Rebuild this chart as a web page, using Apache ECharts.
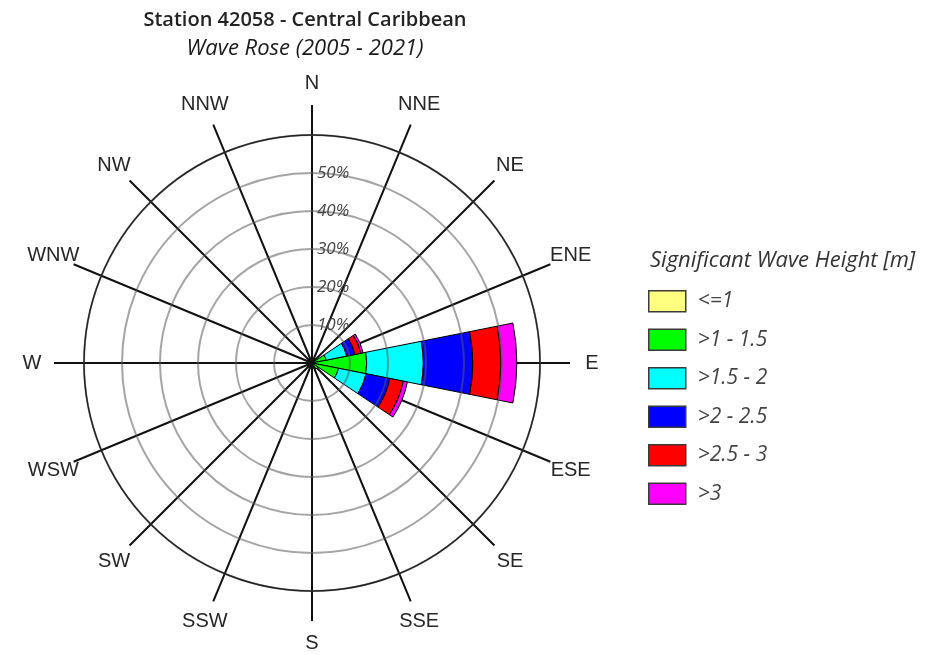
<!DOCTYPE html>
<html>
<head>
<meta charset="utf-8">
<title>Station 42058 - Wave Rose</title>
<script src="https://cdn.jsdelivr.net/npm/echarts@6/dist/echarts.min.js"></script>
<style>
  html, body { margin: 0; padding: 0; background: #fff; }
  #chart { width: 930px; height: 655px; }
</style>
</head>
<body>
<div id="chart"></div>
<script>
// Compass sectors, clockwise from north
const directions = ['N', 'NNE', 'NE', 'ENE', 'E', 'ESE', 'SE', 'SSE', 'S', 'SSW', 'SW', 'WSW', 'W', 'WNW', 'NW', 'NNW'];

// Significant wave height classes
const heightClasses = ['<=1', '>1 - 1.5', '>1.5 - 2', '>2 - 2.5', '>2.5 - 3', '>3'];

// Frequency of occurrence (%) per direction for each height class
const hsLe1    = [0, 0, 0.3, 0.3, 0.6,  0.5, 0.4, 0, 0, 0, 0, 0, 0, 0, 0, 0];
const hs1to15  = [0, 0, 0.5, 3.5, 13.8, 6.6, 1.5, 0, 0, 0, 0, 0, 0, 0, 0, 0];
const hs15to2  = [0, 0, 0,   5.5, 14.9, 7.4, 0,   0, 0, 0, 0, 0, 0, 0, 0, 0];
const hs2to25  = [0, 0, 0,   2.2, 13.0, 6.4, 0,   0, 0, 0, 0, 0, 0, 0, 0, 0];
const hs25to3  = [0, 0, 0,   1.6, 7.4,  3.6, 0,   0, 0, 0, 0, 0, 0, 0, 0, 0];
const hsGt3    = [0, 0, 0,   0.6, 4.2,  1.1, 0,   0, 0, 0, 0, 0, 0, 0, 0, 0];

// Radial ring values (%)
const ringMax = 60;
const ringStep = 10;

const classValues = [hsLe1, hs1to15, hs15to2, hs2to25, hs25to3, hsGt3];
const classColors = ['#FFFF80', '#00FF00', '#00FFFF', '#0000FF', '#FF0000', '#FF00FF'];

const center = [312, 363];
const sectorStart = 90 + 360 / directions.length / 2;   // puts N centred at the top

const chart = echarts.init(document.getElementById('chart'), null, { renderer: 'canvas' });

// Stacked frequency bars, one sector per direction
const barSeries = heightClasses.map((name, i) => ({
  name: name,
  type: 'bar',
  coordinateSystem: 'polar',
  polarIndex: 2,
  stack: 'waves',
  barCategoryGap: '0%',
  data: classValues[i].map(v => (v > 0 ? v : null)),
  itemStyle: { color: classColors[i], borderColor: '#000', borderWidth: 1 },
  emphasis: { disabled: true },
  z: 2
}));

// Compass labels, centred just beyond the spoke ends
const compassLabels = {
  type: 'scatter',
  coordinateSystem: 'polar',
  polarIndex: 3,
  clip: false,
  silent: true,
  symbol: 'circle',
  symbolSize: 1,
  itemStyle: { color: 'rgba(0,0,0,0)', opacity: 1 },
  data: directions.map((d, i) => ({ name: d, value: [1, i] })),
  label: {
    show: true,
    position: 'inside',
    formatter: p => p.name,
    fontFamily: 'Liberation Sans',
    fontSize: 20,
    color: '#262626',
    opacity: 1,
    textBorderWidth: 0
  },
  z: 5
};

const option = {
  animation: false,
  backgroundColor: '#fff',
  title: [
    {
      text: 'Station 42058 - Central Caribbean',
      left: 305, top: 10, textAlign: 'center', padding: 0,
      textStyle: { fontFamily: 'Open Sans', fontSize: 20, fontWeight: 600, color: '#222' }
    },
    {
      text: 'Wave Rose (2005 - 2021)',
      left: 305, top: 38, textAlign: 'center', padding: 0,
      textStyle: { fontFamily: 'Open Sans', fontSize: 22, fontStyle: 'italic', fontWeight: 'normal', color: '#1a1a1a' }
    },
    {
      text: 'Significant Wave Height [m]',
      left: 650, top: 250, padding: 0,
      textStyle: { fontFamily: 'Open Sans', fontSize: 22, fontStyle: 'italic', fontWeight: 'normal', color: '#333' }
    }
  ],
  legend: {
    orient: 'vertical',
    left: 648,
    top: 290,
    padding: 0,
    itemWidth: 37,
    itemHeight: 21,
    itemGap: 16,
    icon: 'rect',
    data: heightClasses,
    selectedMode: false,
    itemStyle: { borderColor: '#3a3a3a', borderWidth: 1.5 },
    textStyle: { fontFamily: 'Open Sans', fontSize: 21, fontStyle: 'italic', color: '#444', padding: [0, 0, 0, 7] }
  },
  polar: [
    { center: center, radius: 228 },
    { center: center, radius: 258 },
    { center: center, radius: 228 },
    { center: center, radius: 280 }
  ],
  angleAxis: [
    {
      // outer circle
      polarIndex: 0, type: 'value', min: 0, max: 360, interval: 22.5,
      startAngle: 90, clockwise: true,
      axisLine: { show: true, lineStyle: { color: '#222', width: 1.5 } },
      axisTick: { show: false }, axisLabel: { show: false }, splitLine: { show: false },
      z: 4
    },
    {
      // direction spokes
      polarIndex: 1, type: 'value', min: 0, max: 360, interval: 22.5,
      startAngle: 90, clockwise: true,
      axisLine: { show: false }, axisTick: { show: false }, axisLabel: { show: false },
      splitLine: { show: true, lineStyle: { color: '#111', width: 2 } },
      z: 1
    },
    {
      // sectors for the stacked bars
      polarIndex: 2, type: 'category', data: directions,
      startAngle: sectorStart, clockwise: true,
      show: false
    },
    {
      // compass label ring
      polarIndex: 3, type: 'category', data: directions,
      startAngle: sectorStart, clockwise: true,
      show: false
    }
  ],
  radiusAxis: [
    {
      polarIndex: 0, type: 'value', min: 0, max: ringMax, interval: ringStep,
      axisLine: { show: false }, axisTick: { show: false },
      axisLabel: {
        show: true, align: 'left', margin: -5,
        formatter: v => (v > 0 && v < ringMax ? v + '%' : ''),
        fontFamily: 'Open Sans', fontSize: 17, fontStyle: 'italic', color: '#444'
      },
      splitLine: { show: true, lineStyle: { color: 'rgba(90,90,90,0.55)', width: 2 } },
      z: 3
    },
    { polarIndex: 1, type: 'value', min: 0, max: 1, show: false },
    { polarIndex: 2, type: 'value', min: 0, max: ringMax, show: false },
    { polarIndex: 3, type: 'value', min: 0, max: 1, show: false }
  ],
  series: barSeries.concat([compassLabels])
};

chart.setOption(option);
</script>
</body>
</html>
